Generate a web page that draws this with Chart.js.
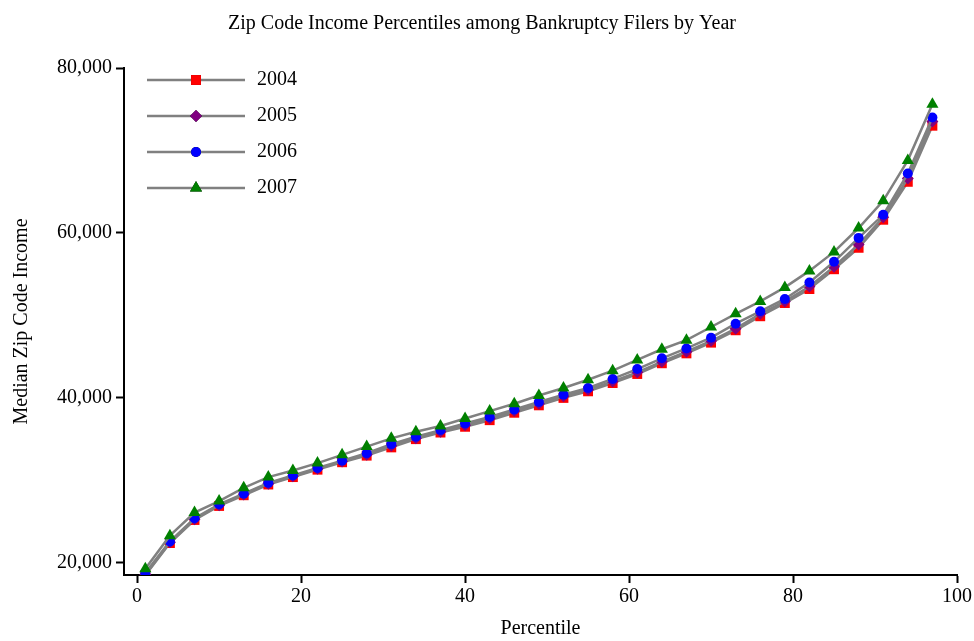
<!DOCTYPE html>
<html>
<head>
<meta charset="utf-8">
<script src="https://cdn.jsdelivr.net/npm/chart.js@4"></script>
<style>
  html, body { margin: 0; padding: 0; background: #fff; }
  #wrap { width: 974px; height: 641px; }
</style>
</head>
<body>
<div id="wrap"><canvas id="chart" width="974" height="641"></canvas></div>
<script>
'use strict';

const percentiles = [1,4,7,10,13,16,19,22,25,28,31,34,37,40,43,46,49,52,55,58,61,64,67,70,73,76,79,82,85,88,91,94,97];
const y2004 = [18.5,22.4,25.2,26.9,28.2,29.5,30.4,31.3,32.2,33.0,34.0,35.0,35.8,36.5,37.3,38.2,39.1,40.0,40.8,41.8,42.9,44.2,45.4,46.7,48.2,49.9,51.5,53.2,55.6,58.2,61.6,66.2,73.0];
const y2005 = [18.6,22.5,25.3,27.0,28.3,29.6,30.5,31.4,32.3,33.1,34.2,35.1,35.9,36.7,37.5,38.4,39.3,40.2,41.0,42.0,43.1,44.4,45.6,46.9,48.4,50.2,51.7,53.5,55.9,58.6,61.9,66.6,73.5];
const y2006 = [18.8,22.6,25.4,27.1,28.4,29.7,30.6,31.5,32.4,33.3,34.4,35.3,36.1,36.9,37.7,38.6,39.5,40.4,41.2,42.3,43.5,44.8,46.0,47.3,49.0,50.5,52.0,54.0,56.5,59.4,62.2,67.2,74.0];
const y2007 = [19.3,23.3,26.1,27.5,29.1,30.4,31.2,32.1,33.1,34.1,35.1,35.9,36.6,37.5,38.4,39.3,40.3,41.2,42.2,43.3,44.6,45.9,47.0,48.6,50.2,51.7,53.4,55.4,57.7,60.6,63.9,68.8,75.6];
const years = ['2004', '2005', '2006', '2007'];
const xTicks = [0, 20, 40, 60, 80, 100];
const yTicks = [20000, 40000, 60000, 80000];

const FONT = '"Liberation Serif", "DejaVu Serif", serif';
const series = [y2004, y2005, y2006, y2007];
const markers = [
  { style: 'rect', color: '#ff0000', r: 7 },
  { style: 'rectRot', color: '#800080', r: 6 },
  { style: 'circle', color: '#0000ff', r: 5 },
  { style: 'triangle', color: '#008000', r: 7 }
];

// later years drawn on top
const datasets = series.map((vals, i) => ({
  label: years[i],
  data: vals.map((v, k) => ({ x: percentiles[k], y: v * 1000 })),
  order: series.length - i,
  borderColor: '#808080',
  borderWidth: 2.5,
  pointStyle: markers[i].style,
  pointRadius: markers[i].r,
  pointBackgroundColor: markers[i].color,
  pointBorderColor: markers[i].color,
  pointBorderWidth: 0,
  tension: 0
}));

// Legend drawn in upper-left of the plot
const legendPlugin = {
  id: 'cornerLegend',
  afterDraw(chart) {
    const c = chart.ctx;
    c.save();
    years.forEach((y, i) => {
      const ly = 80 + i * 36;
      c.strokeStyle = '#808080';
      c.lineWidth = 2.5;
      c.beginPath();
      c.moveTo(147, ly);
      c.lineTo(245, ly);
      c.stroke();
      Chart.helpers.drawPoint(c, {
        pointStyle: markers[i].style, radius: markers[i].r, rotation: 0, borderWidth: 0
      }, 196, ly);
      c.fillStyle = markers[i].color;
      c.fill();
      c.fillStyle = '#000';
      c.font = '20px ' + FONT;
      c.textBaseline = 'middle';
      c.fillText(y, 257, ly);
    });
    c.restore();
  }
};

const tickGrid = { display: true, drawOnChartArea: false, drawTicks: true, tickLength: 8, tickColor: '#000', tickWidth: 2 };

new Chart(document.getElementById('chart'), {
  type: 'line',
  data: { datasets },
  plugins: [legendPlugin],
  options: {
    responsive: false,
    animation: false,
    layout: { padding: { top: 4, right: 16, left: 6, bottom: 0 } },
    plugins: {
      legend: { display: false },
      tooltip: { enabled: false },
      title: {
        display: true,
        text: 'Zip Code Income Percentiles among Bankruptcy Filers by Year',
        color: '#000',
        font: { family: FONT, size: 20, weight: 'normal' },
        padding: { top: 8, bottom: 32 }
      }
    },
    scales: {
      x: {
        type: 'linear',
        min: -1.6,
        max: 100,
        afterBuildTicks(axis) { axis.ticks = xTicks.map(v => ({ value: v })); },
        grid: tickGrid,
        border: { color: '#000', width: 2 },
        ticks: { color: '#000', font: { family: FONT, size: 20 }, padding: 2, maxRotation: 0 },
        title: { display: true, text: 'Percentile', color: '#000', font: { family: FONT, size: 20 }, padding: { top: 6, bottom: 0 } }
      },
      y: {
        type: 'linear',
        min: 18530,
        max: 80000,
        afterBuildTicks(axis) { axis.ticks = yTicks.map(v => ({ value: v })); },
        grid: tickGrid,
        border: { color: '#000', width: 2 },
        ticks: { color: '#000', font: { family: FONT, size: 20 }, padding: 4, callback: v => v.toLocaleString('en-US') },
        title: { display: true, text: 'Median Zip Code Income', color: '#000', font: { family: FONT, size: 20 }, padding: { bottom: 19 } }
      }
    }
  }
});
</script>
</body>
</html>
